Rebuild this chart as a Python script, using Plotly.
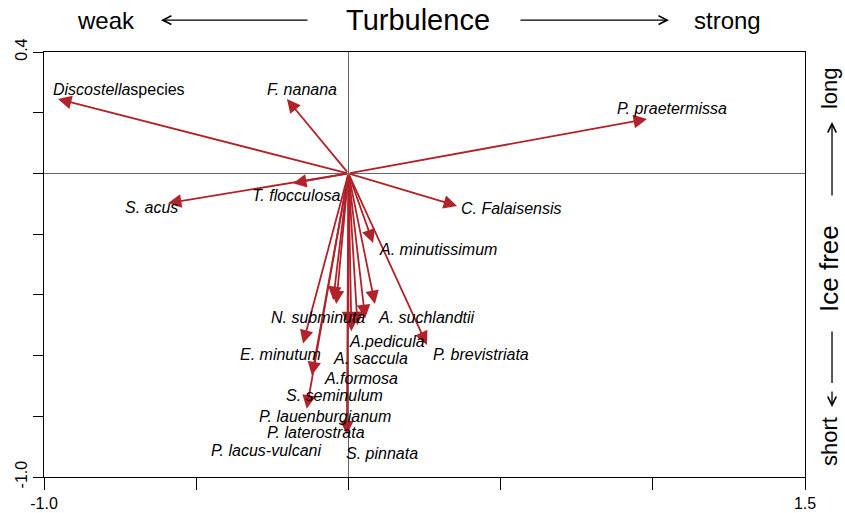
import plotly.graph_objects as go

species = [
    "<i>Discostella</i>species", "<i>F. nanana</i>", "<i>P. praetermissa</i>",
    "<i>S. acus</i>", "<i>T. flocculosa</i>", "<i>C. Falaisensis</i>",
    "<i>A. minutissimum</i>", "<i>N. subminuta</i>", "<i>A. suchlandtii</i>",
    "<i>A.pedicula</i>", "<i>E. minutum</i>", "<i>A. saccula</i>",
    "<i>P. brevistriata</i>", "<i>A.formosa</i>", "<i>S. seminulum</i>",
    "<i>P. lauenburgianum</i>", "<i>P. laterostrata</i>",
    "<i>P. lacus-vulcani</i>", "<i>S. pinnata</i>",
]
# arrow tips (RDA species scores)
tip_x = [-0.954, -0.202, 0.981, -0.593, -0.182, 0.357,
         0.081, -0.050, 0.087, 0.055, -0.149, 0.030,
         0.258, 0.000, -0.120, -0.137, -0.005,
         -0.040, 0.010]
tip_y = [0.245, 0.245, 0.179, -0.098, -0.032, -0.107,
         -0.229, -0.417, -0.430, -0.477, -0.560, -0.500,
         -0.565, -0.500, -0.665, -0.775, -0.860,
         -0.430, -0.520]
# label anchors (left edge, middle)
label_x = [-0.977, -0.274, 0.876, -0.741, -0.323, 0.364,
           0.094, -0.261, 0.090, -0.005, -0.363, -0.057,
           0.271, -0.087, -0.212, -0.301, -0.274,
           -0.459, -0.015]
label_y = [0.275, 0.275, 0.215, -0.111, -0.072, -0.114,
           -0.252, -0.473, -0.473, -0.555, -0.598, -0.608,
           -0.598, -0.674, -0.730, -0.802, -0.855,
           -0.914, -0.921]

x_ticks = [-1.0, -0.5, 0.0, 0.5, 1.0, 1.5]
x_ticktext = ["-1.0", "", "", "", "", "1.5"]
y_ticks = [-1.0, -0.8, -0.6, -0.4, -0.2, 0.0, 0.2, 0.4]
y_ticktext = ["-1.0", "", "", "", "", "", "", "0.4"]

RED = "#B2222A"
FONT = "Liberation Sans, Arial, sans-serif"

fig = go.Figure()
fig.add_trace(go.Scatter(x=[], y=[], showlegend=False))

annotations = []
for sx, sy in zip(tip_x, tip_y):
    annotations.append(dict(
        x=sx, y=sy, ax=0, ay=0, xref="x", yref="y", axref="x", ayref="y",
        text="", showarrow=True, arrowhead=2, arrowsize=1.5, arrowwidth=1.8,
        arrowcolor=RED, standoff=0,
    ))
for name, lx, ly in zip(species, label_x, label_y):
    annotations.append(dict(
        x=lx, y=ly, xref="x", yref="y", text=name, showarrow=False,
        xanchor="left", yanchor="middle",
        font=dict(family=FONT, size=16, color="black"),
    ))


def paper_text(x, y, text, size, angle=0):
    return dict(x=x, y=y, xref="paper", yref="paper", text=text, textangle=angle,
                showarrow=False, xanchor="center", yanchor="middle",
                font=dict(family=FONT, size=size, color="black"))


def paper_arrow(x, y, ax, ay, head=5):
    return dict(x=x, y=y, xref="paper", yref="paper", text="", ax=ax, ay=ay,
                showarrow=True, arrowhead=head, arrowsize=1.3, arrowwidth=1.3,
                arrowcolor="black")


# Turbulence gradient (top)
annotations += [
    paper_text(0.0815, 1.075, "weak", 24),
    paper_text(0.4915, 1.075, "Turbulence", 29),
    paper_text(0.8988, 1.075, "strong", 24),
    paper_arrow(0.1537, 1.075, 148, 0),
    paper_arrow(0.8213, 1.075, -150, 0),
]
# Ice free gradient (right)
annotations += [
    paper_text(1.0315, 0.915, "long", 22, -90),
    paper_text(1.0315, 0.4918, "Ice free", 26, -90),
    paper_text(1.0315, 0.0847, "short", 22, -90),
    paper_arrow(1.0355, 0.8353, 0, 75),
    paper_arrow(1.0355, 0.2212, 0, -53, head=0),
    paper_arrow(1.0355, 0.1647, 0, -17),
]

axis_common = dict(
    ticks="outside", tickcolor="black", tickwidth=1, automargin=False,
    showgrid=False, zeroline=True, zerolinecolor="#666666", zerolinewidth=1,
    showline=True, linecolor="black", linewidth=1, mirror=True,
    tickfont=dict(size=16),
)

fig.update_layout(
    width=845, height=513,
    margin=dict(l=44, r=40, t=52, b=36),
    paper_bgcolor="white", plot_bgcolor="white",
    showlegend=False,
    annotations=annotations,
    font=dict(family=FONT, size=15, color="black"),
    xaxis=dict(range=[-1.0, 1.5], tickvals=x_ticks, ticktext=x_ticktext,
               ticklen=12, **axis_common),
    yaxis=dict(range=[-1.0, 0.4], tickvals=y_ticks, ticktext=y_ticktext,
               ticklen=10, tickangle=-90, **axis_common),
)

fig.write_html("out.html", config={"displayModeBar": False},
               post_script="document.body.style.margin='0';")
